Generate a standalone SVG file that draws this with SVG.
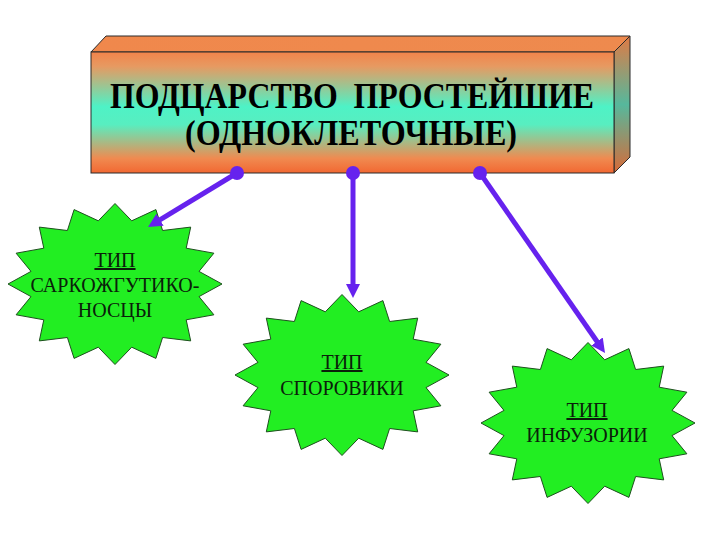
<svg xmlns="http://www.w3.org/2000/svg" width="720" height="540" viewBox="0 0 720 540">
<style>
.title{font-family:'Liberation Serif','DejaVu Serif',serif;font-weight:bold;font-size:36px;fill:#000;text-anchor:middle}
.lbl{font-family:'Liberation Serif','DejaVu Serif',serif;font-size:20px;fill:#0a200a;text-anchor:middle}
.star{fill:#22ee22;stroke:#1f4f1f;stroke-width:1}
.conn{stroke:#6622ee;stroke-width:5;fill:none;marker-end:url(#ah)}
.pin{fill:#6622ee}
.edge{stroke:#2a2a2a;stroke-width:1}
</style>
<defs>
<linearGradient id="front" x1="0" y1="0" x2="0" y2="1">
<stop offset="0" stop-color="#f2844a"/>
<stop offset="0.12" stop-color="#e69a62"/>
<stop offset="0.45" stop-color="#4ef2c6"/>
<stop offset="0.6" stop-color="#58eec0"/>
<stop offset="0.88" stop-color="#f08a50"/>
<stop offset="1" stop-color="#f26832"/>
</linearGradient>
<linearGradient id="side" x1="0" y1="0" x2="0" y2="1">
<stop offset="0" stop-color="#e07a44"/>
<stop offset="0.5" stop-color="#56b89c"/>
<stop offset="1" stop-color="#d86a38"/>
</linearGradient>
<linearGradient id="top" x1="0" y1="0" x2="1" y2="0">
<stop offset="0" stop-color="#f0884c"/>
<stop offset="1" stop-color="#ee8a4e"/>
</linearGradient>
<marker id="ah" markerUnits="userSpaceOnUse" markerWidth="14" markerHeight="14" refX="4" refY="7" orient="auto">
<path d="M0,0 L14,7 L0,14 z" fill="#6622ee"/>
</marker>
<polygon id="star16" class="star" points="0,-80.5 16.7,-63.2 40.9,-74.4 47.6,-53.5 75.7,-56.9 71.2,-35.8 98.9,-30.8 84,-12.6 107,0 84,12.6 98.9,30.8 71.2,35.8 75.7,56.9 47.6,53.5 40.9,74.4 16.7,63.2 0,80.5 -16.7,63.2 -40.9,74.4 -47.6,53.5 -75.7,56.9 -71.2,35.8 -98.9,30.8 -84,12.6 -107,0 -84,-12.6 -98.9,-30.8 -71.2,-35.8 -75.7,-56.9 -47.6,-53.5 -40.9,-74.4 -16.7,-63.2"/>
</defs>
<rect width="720" height="540" fill="#fff"/>

<g id="kingdom">
<polygon class="edge" points="91,52 106,36 630,36 614,52" fill="url(#top)"/>
<polygon class="edge" points="614,52 630,36 630,157 614,173" fill="url(#side)"/>
<rect class="edge" x="91" y="52" width="523" height="121" fill="url(#front)"/>
<text class="title" x="352" y="108" textLength="484" lengthAdjust="spacingAndGlyphs">ПОДЦАРСТВО&#160; ПРОСТЕЙШИЕ</text>
<text class="title" x="351" y="145" textLength="332" lengthAdjust="spacingAndGlyphs">(ОДНОКЛЕТОЧНЫЕ)</text>
</g>

<g id="sarcomastigophora">
<use href="#star16" x="115" y="284"/>
<text class="lbl" x="115" y="267" text-decoration="underline">ТИП</text>
<text class="lbl" x="115" y="292">САРКОЖГУТИКО-</text>
<text class="lbl" x="115" y="317">НОСЦЫ</text>
</g>

<g id="sporozoa">
<use href="#star16" x="342" y="375"/>
<text class="lbl" x="342" y="369" text-decoration="underline">ТИП</text>
<text class="lbl" x="342" y="395">СПОРОВИКИ</text>
</g>

<g id="ciliophora">
<use href="#star16" x="588" y="423"/>
<text class="lbl" x="587" y="417" text-decoration="underline">ТИП</text>
<text class="lbl" x="587" y="442">ИНФУЗОРИИ</text>
</g>

<g id="connectors">
<line class="conn" x1="237" y1="173" x2="156.6" y2="221.8"/>
<line class="conn" x1="353" y1="173" x2="353" y2="288"/>
<line class="conn" x1="480" y1="173" x2="599.3" y2="344.8"/>
<circle class="pin" cx="237" cy="173" r="7"/>
<circle class="pin" cx="353" cy="173" r="7"/>
<circle class="pin" cx="480" cy="173" r="7"/>
</g>
</svg>
